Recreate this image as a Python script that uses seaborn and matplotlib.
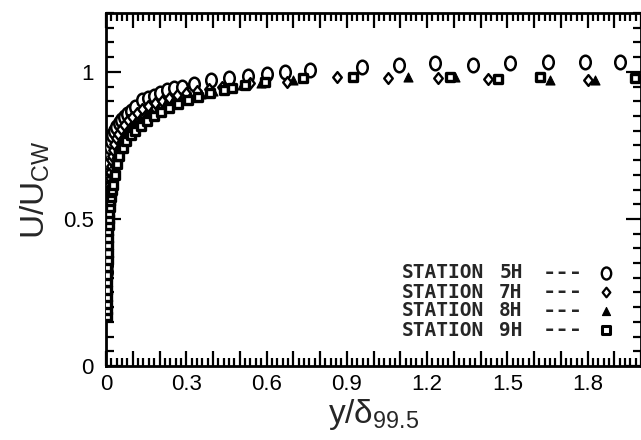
import matplotlib
matplotlib.use("Agg")
import matplotlib.pyplot as plt
from matplotlib.path import Path
from matplotlib.transforms import Affine2D
from matplotlib.ticker import MultipleLocator, FuncFormatter
import seaborn as sns

# Boundary-layer velocity profiles, y/delta_99.5 vs U/U_cw
stations = ["STATION 5H", "STATION 7H", "STATION 8H", "STATION 9H"]

y5 = [0.0010, 0.0012, 0.0014, 0.0016, 0.0019, 0.0022, 0.0025, 0.0029, 0.0033,
      0.0038, 0.0043, 0.0049, 0.0055, 0.0062, 0.0070, 0.0079, 0.0089, 0.0100,
      0.0112, 0.0125, 0.0140, 0.0156, 0.019, 0.024, 0.030, 0.038, 0.047, 0.057,
      0.068, 0.080, 0.094, 0.110, 0.135, 0.158, 0.179, 0.203, 0.228, 0.255,
      0.284, 0.33, 0.393, 0.46, 0.531, 0.60, 0.669, 0.763, 0.957, 1.095,
      1.230, 1.372, 1.510, 1.652, 1.791, 1.921]
u5 = [0.22, 0.245, 0.27, 0.29, 0.32, 0.345, 0.37, 0.39, 0.42,
      0.445, 0.47, 0.49, 0.52, 0.545, 0.57, 0.59, 0.62, 0.645,
      0.67, 0.69, 0.72, 0.745, 0.765, 0.785, 0.80, 0.812, 0.826, 0.837,
      0.848, 0.857, 0.866, 0.882, 0.905, 0.912, 0.918, 0.928, 0.939, 0.944,
      0.949, 0.96, 0.973, 0.98, 0.986, 0.993, 1.0, 1.007, 1.017, 1.024,
      1.031, 1.024, 1.031, 1.034, 1.034, 1.034]

y7 = [0.0010, 0.0012, 0.0015, 0.0018, 0.0021, 0.0025, 0.0029, 0.0034, 0.0039,
      0.0045, 0.0051, 0.0058, 0.0066, 0.0075, 0.0085, 0.0096, 0.0108, 0.0121,
      0.0136, 0.0152, 0.0170, 0.0190, 0.0210, 0.025, 0.031, 0.038, 0.046,
      0.056, 0.068, 0.082, 0.098, 0.116, 0.136, 0.158, 0.182, 0.208, 0.236,
      0.266, 0.30, 0.34, 0.385, 0.434, 0.538, 0.677, 0.864, 1.054, 1.241,
      1.428, 1.802]
u7 = [0.19, 0.215, 0.24, 0.265, 0.29, 0.315, 0.34, 0.365, 0.39,
      0.415, 0.44, 0.465, 0.49, 0.515, 0.54, 0.565, 0.59, 0.615,
      0.64, 0.66, 0.68, 0.70, 0.715, 0.735, 0.755, 0.775, 0.79,
      0.805, 0.82, 0.835, 0.848, 0.86, 0.872, 0.883, 0.893, 0.902, 0.911,
      0.92, 0.928, 0.936, 0.943, 0.949, 0.963, 0.966, 0.983, 0.98, 0.98,
      0.976, 0.973]

y8 = [0.0018, 0.0021, 0.0024, 0.0028, 0.0032, 0.0037, 0.0042, 0.0048, 0.0054,
      0.0061, 0.0069, 0.0078, 0.0088, 0.0099, 0.0111, 0.0124, 0.0139, 0.0155,
      0.0172, 0.0192, 0.0215, 0.024, 0.030, 0.037, 0.045, 0.055, 0.066, 0.079,
      0.094, 0.110, 0.128, 0.148, 0.170, 0.194, 0.220, 0.248, 0.28, 0.315,
      0.355, 0.40, 0.45, 0.51, 0.58, 0.70, 1.129, 1.305, 1.660, 1.828]
u8 = [0.18, 0.205, 0.23, 0.255, 0.28, 0.305, 0.33, 0.355, 0.38,
      0.405, 0.43, 0.455, 0.48, 0.505, 0.53, 0.55, 0.57, 0.59,
      0.61, 0.625, 0.64, 0.655, 0.69, 0.72, 0.745, 0.765, 0.785, 0.80,
      0.815, 0.83, 0.843, 0.856, 0.868, 0.878, 0.889, 0.898, 0.908, 0.917,
      0.926, 0.936, 0.946, 0.955, 0.963, 0.972, 0.983, 0.983, 0.973, 0.973]

y9 = [0.0020, 0.0024, 0.0028, 0.0032, 0.0036, 0.0041, 0.0046, 0.0052, 0.0058,
      0.0065, 0.0073, 0.0082, 0.0092, 0.0103, 0.0115, 0.0128, 0.0142, 0.0158,
      0.0176, 0.0196, 0.0218, 0.026, 0.032, 0.040, 0.050, 0.062, 0.076, 0.092,
      0.110, 0.130, 0.153, 0.178, 0.205, 0.235, 0.268, 0.305, 0.345, 0.39,
      0.44, 0.471, 0.52, 0.594, 0.736, 0.923, 1.286, 1.465, 1.622, 1.978]
u9 = [0.17, 0.19, 0.21, 0.235, 0.26, 0.285, 0.31, 0.335, 0.36,
      0.385, 0.41, 0.435, 0.46, 0.48, 0.50, 0.52, 0.54, 0.56,
      0.575, 0.59, 0.60, 0.615, 0.65, 0.685, 0.715, 0.74, 0.765, 0.785,
      0.80, 0.815, 0.833, 0.85, 0.864, 0.877, 0.89, 0.903, 0.915, 0.927,
      0.938, 0.946, 0.955, 0.966, 0.98, 0.983, 0.983, 0.976, 0.983, 0.98]

x_ticklabels = ["0", "0.3", "0.6", "0.9", "1.2", "1.5", "1.8"]
y_ticklabels = ["0", "0.5", "1"]

sns.set_style("ticks")
plt.rcParams["font.family"] = ["Liberation Sans", "DejaVu Sans"]
plt.rcParams["mathtext.fontset"] = "custom"
plt.rcParams["mathtext.rm"] = "Liberation Sans"
plt.rcParams["mathtext.default"] = "regular"

W, H = 641, 440
fig = plt.figure(figsize=(W / 100, H / 100), dpi=100)
L, R, T, B = 106, 641, 13, 366
ax = fig.add_axes([L / W, 1 - B / H, (R - L) / W, (B - T) / H])

ellipse = Path.unit_circle().transformed(Affine2D().scale(0.78, 1.0))
diamond = Path([(0, -1), (0.8, 0), (0, 1), (-0.8, 0), (0, -1)],
               [Path.MOVETO, Path.LINETO, Path.LINETO, Path.LINETO, Path.CLOSEPOLY])

styles = [
    dict(marker=ellipse, s=95, facecolor="white", edgecolor="black", linewidth=1.8),
    dict(marker=diamond, s=60, facecolor="white", edgecolor="black", linewidth=1.7),
    dict(marker="^", s=42, color="black", edgecolor="black", linewidth=0.8),
    dict(marker="s", s=40, facecolor="white", edgecolor="black", linewidth=2.4),
]
series = [(y5, u5), (y7, u7), (y8, u8), (y9, u9)]

for (xs, us), st in zip(series, styles):
    sns.scatterplot(x=xs, y=us, ax=ax, legend=False, zorder=3, **st)

ax.set_xlim(0, 2.0)
ax.set_ylim(0, 1.2)

ax.xaxis.set_major_locator(MultipleLocator(0.1))
ax.xaxis.set_minor_locator(MultipleLocator(0.02))
ax.yaxis.set_major_locator(MultipleLocator(0.5))
ax.yaxis.set_minor_locator(MultipleLocator(0.05))

def xfmt(v, _):
    k = int(round(v * 10))
    if k % 3 == 0 and k // 3 < len(x_ticklabels):
        return x_ticklabels[k // 3]
    return ""

def yfmt(v, _):
    k = int(round(v * 2))
    return y_ticklabels[k] if 0 <= k < len(y_ticklabels) else ""

ax.xaxis.set_major_formatter(FuncFormatter(xfmt))
ax.yaxis.set_major_formatter(FuncFormatter(yfmt))

ax.tick_params(which="both", direction="in", top=True, right=True,
               color="black", width=1.6, labelsize=16, labelcolor="black")
ax.tick_params(which="major", length=11, pad=6)
ax.tick_params(axis="y", which="major", pad=9)
ax.tick_params(which="minor", length=5.5)
for sp in ax.spines.values():
    sp.set_linewidth(2.0)
    sp.set_color("black")

ax.set_xlabel(r"y/δ$_{99.5}$", fontsize=24, labelpad=1)
ax.set_ylabel(r"U/U$_{CW}$", fontsize=24, labelpad=8)

# station key drawn as text rows with a sample marker
def axfrac(px, py):
    return (px - L) / (R - L), (B - py) / (B - T)

rows_py = [273, 292, 311, 330]
key_markers = [
    dict(marker=ellipse, s=75, facecolor="white", edgecolor="black", linewidth=1.7),
    dict(marker=diamond, s=48, facecolor="white", edgecolor="black", linewidth=1.6),
    dict(marker="^", s=34, color="black", edgecolor="black", linewidth=0.8),
    dict(marker="s", s=32, facecolor="white", edgecolor="black", linewidth=2.2),
]
mono = dict(family=["DejaVu Sans Mono"], fontweight="bold",
            va="center", transform=ax.transAxes)
for name, py, km in zip(stations, rows_py, key_markers):
    word, code = name.split(" ")
    x0, y0 = axfrac(402, py)
    ax.text(x0, y0, word, ha="left", fontsize=14, **mono)
    xc, _ = axfrac(511, py)
    ax.text(xc, y0, code, ha="center", fontsize=14, **mono)
    x1, _ = axfrac(563, py)
    ax.text(x1, y0, "---", ha="center", fontsize=16, **mono)
    x2, _ = axfrac(606, py)
    ax.scatter([x2], [y0], transform=ax.transAxes, clip_on=False, zorder=4, **km)

fig.savefig("out.png", dpi=100)
